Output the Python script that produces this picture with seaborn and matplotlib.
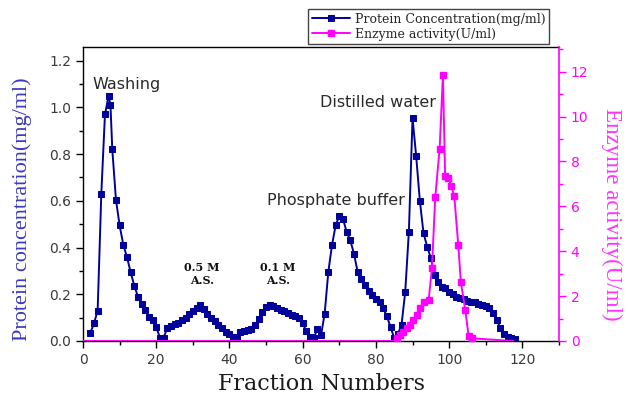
import matplotlib
matplotlib.use("Agg")
import matplotlib.pyplot as plt
import seaborn as sns
import numpy as np
import pandas as pd
from matplotlib.ticker import MultipleLocator

# ---- data ----
protein_x = [2, 3, 4, 5, 6, 7, 7.5, 8, 9, 10, 11, 12, 13, 14, 15, 16, 17, 18, 19, 20,
             21, 22, 23, 24, 25, 26, 27, 28, 29, 30, 31, 32, 33, 34, 35, 36, 37, 38, 39, 40,
             41, 42, 43, 44, 45, 46, 47, 48, 49, 50, 51, 52, 53, 54, 55, 56, 57, 58, 59, 60,
             61, 62, 63, 64, 65, 66, 67, 68, 69, 70, 71, 72, 73, 74, 75, 76, 77, 78, 79, 80,
             81, 82, 83, 84, 85, 86, 87, 88, 89, 90, 91, 92, 93, 94, 95, 96, 97, 98, 99, 100,
             101, 102, 103, 104, 105, 106, 107, 108, 109, 110, 111, 112, 113, 114, 115, 116, 117, 118]
protein_y = [0.035, 0.075, 0.13, 0.63, 0.97, 1.05, 1.01, 0.82, 0.605, 0.495, 0.412, 0.36, 0.295, 0.237, 0.19, 0.157, 0.134, 0.103, 0.088, 0.061,
             0.014, 0.014, 0.054, 0.065, 0.072, 0.078, 0.088, 0.10, 0.115, 0.13, 0.14, 0.155, 0.138, 0.115, 0.098, 0.087, 0.07, 0.055, 0.04, 0.028,
             0.018, 0.01, 0.04, 0.043, 0.046, 0.052, 0.068, 0.095, 0.125, 0.145, 0.155, 0.148, 0.14, 0.134, 0.127, 0.12, 0.112, 0.105, 0.098, 0.075,
             0.042, 0.016, 0.012, 0.05, 0.024, 0.117, 0.296, 0.41, 0.495, 0.535, 0.524, 0.467, 0.431, 0.374, 0.296, 0.264, 0.238, 0.214, 0.196, 0.181,
             0.165, 0.14, 0.105, 0.06, 0.012, 0.03, 0.07, 0.21, 0.468, 0.954, 0.79, 0.60, 0.461, 0.404, 0.354, 0.283, 0.254, 0.233, 0.226, 0.211,
             0.2, 0.19, 0.183, 0.178, 0.172, 0.168, 0.165, 0.16, 0.155, 0.15, 0.143, 0.12, 0.09, 0.055, 0.03, 0.015, 0.011, 0.007]

enzyme_x = [0, 85, 85.7, 86.6, 87.5, 88.4, 89.3, 90.2, 91.2, 92.1, 93.0, 94.4, 95.3, 96.2, 97.4, 98.3,
            98.9, 99.8, 100.6, 101.4, 102.5, 103.2, 104.4, 105.3, 106.2, 117.5]
enzyme_y = [0, 0, 0.15, 0.27, 0.42, 0.57, 0.71, 0.94, 1.16, 1.46, 1.76, 1.83, 3.24, 6.4, 8.57, 11.85,
            7.34, 7.26, 6.9, 6.44, 4.26, 2.62, 1.38, 0.24, 0.12, 0]

labels_protein = "Protein Concentration(mg/ml)"
labels_enzyme = "Enzyme activity(U/ml)"

annotations = [("Washing", 12.0, 1.10), ("Distilled water", 80.5, 1.02), ("Phosphate buffer", 69.0, 0.60)]
small_annotations = [("0.5 M\nA.S.", 32.4, 0.235), ("0.1 M\nA.S.", 53.3, 0.235)]

# ---- style ----
sns.set_style("ticks")
plt.rcParams['font.family'] = ['DejaVu Sans']

BLUE = "#00009a"
PINK = "#ff00ff"
TICKC = "#3a3a3a"

fig = plt.figure(figsize=(6.28, 3.99), dpi=100)
ax = fig.add_axes([83/628, 1-341/399, (559-83)/628, (341-47)/399])
ax2 = ax.twinx()

df_p = pd.DataFrame({"x": protein_x, "y": protein_y})
df_e = pd.DataFrame({"x": enzyme_x, "y": enzyme_y})

sns.lineplot(data=df_p, x="x", y="y", ax=ax, color=BLUE, marker="s", markersize=4.5,
             markeredgecolor=BLUE, linewidth=1.4, label=labels_protein, legend=False, sort=False)
sns.lineplot(data=df_e, x="x", y="y", ax=ax2, color=PINK, linewidth=1.4, legend=False, sort=False)
mark_idx = list(range(2, len(enzyme_x) - 1))
ax2.plot([enzyme_x[i] for i in mark_idx], [enzyme_y[i] for i in mark_idx], linestyle="none",
         marker="s", markersize=4.5, color=PINK, clip_on=False)

ax.set_xlim(0, 130)
ax.set_ylim(0, 1.2586)
ax2.set_ylim(0, 13.1)

ax.xaxis.set_major_locator(MultipleLocator(20))
ax.xaxis.set_minor_locator(MultipleLocator(10))
ax.yaxis.set_major_locator(MultipleLocator(0.2))
ax.yaxis.set_minor_locator(MultipleLocator(0.1))
ax2.yaxis.set_major_locator(MultipleLocator(2))
ax2.yaxis.set_minor_locator(MultipleLocator(1))
ax.yaxis.set_major_formatter(matplotlib.ticker.FormatStrFormatter('%.1f'))

for a in (ax, ax2):
    a.tick_params(which='major', length=5, width=1, direction='out', labelsize=10)
    a.tick_params(which='minor', length=3, width=1, direction='out')
ax.tick_params(axis='both', which='both', colors='black', labelcolor=TICKC)
ax.tick_params(axis='y', which='both', right=False)
ax.tick_params(axis='x', which='both', top=False)
ax2.tick_params(axis='y', which='both', colors=PINK, labelcolor=PINK)

for s in ax.spines.values():
    s.set_visible(True)
    s.set_color('black')
    s.set_linewidth(1)
for s in ax2.spines.values():
    s.set_visible(False)
ax2.spines['right'].set_visible(True)
ax2.spines['right'].set_color(PINK)
ax2.spines['right'].set_linewidth(1.2)
ax.spines['right'].set_visible(False)

ax.set_xlabel("Fraction Numbers", family=['DejaVu Serif'], fontsize=16, color='#1a1a1a', va='center')
ax.xaxis.set_label_coords(0.5, -(384 - 341) / 294)
ax.set_ylabel("Protein concentration(mg/ml)", family=['Liberation Serif'], fontsize=16, color='#3a3ac0',
              va='center')
ax.yaxis.set_label_coords(-0.127, 0.449)
ax2.set_ylabel("Enzyme activity(U/ml)", family=['Liberation Serif'], fontsize=16.6, color='#ff33ff',
               rotation=270, va='center')
ax2.yaxis.set_label_coords(1.111, 0.43)

for t, x, y in annotations:
    ax.text(x, y, t, ha='center', va='center', fontsize=11.5, color='#2a2a2a', family=['DejaVu Sans'])
for t, x, y in small_annotations:
    ax.text(x, y, t, ha='center', va='bottom', fontsize=8, color='#111111', fontweight='bold',
            family=['DejaVu Serif'], linespacing=1.2)

h1 = ax.lines[0]
h2 = matplotlib.lines.Line2D([], [], color=PINK, marker='s', markersize=4.5, linewidth=1.4)
leg = fig.legend([h1, h2], [labels_protein, labels_enzyme], loc='upper right',
                 bbox_to_anchor=(549/628, 1-9/399), frameon=True, fancybox=False,
                 edgecolor='#444444', framealpha=1, prop={'family': 'DejaVu Serif', 'size': 9},
                 handlelength=3, borderpad=0.3, labelspacing=0.15, handletextpad=0.4, borderaxespad=0)
leg.get_frame().set_linewidth(1)

fig.savefig("out.png", dpi=100)
